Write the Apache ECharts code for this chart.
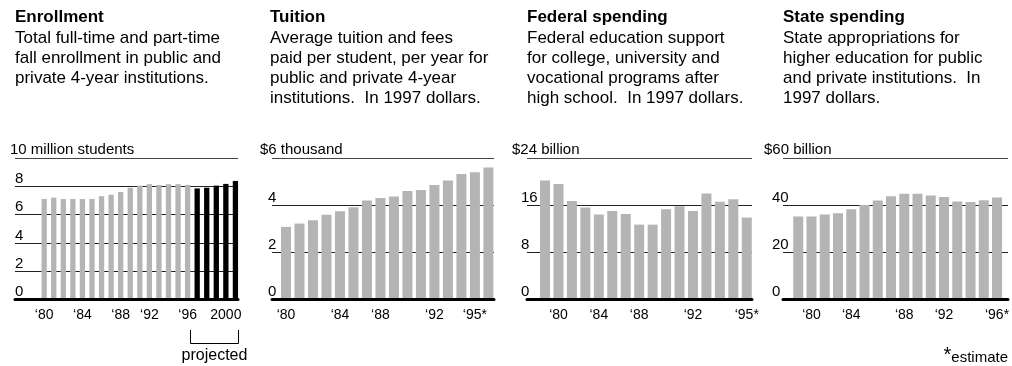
<!DOCTYPE html>
<html>
<head>
<meta charset="utf-8">
<script src="https://cdn.jsdelivr.net/npm/echarts@6/dist/echarts.min.js"></script>
<style>
html,body{margin:0;padding:0;background:#fff;}
#c{width:1012px;height:366px;}
</style>
</head>
<body>
<div id="c"></div>
<script>
// ---------------- DATA ----------------
const enrollYears = ['1980','1981','1982','1983','1984','1985','1986','1987','1988','1989','1990','1991','1992','1993','1994','1995','1996','1997','1998','1999','2000'];
const enrollActual = [7.1, 7.2, 7.1, 7.1, 7.1, 7.1, 7.3, 7.4, 7.6, 7.9, 8.05, 8.15, 8.1, 8.15, 8.15, 8.1];
const enrollProjected = [7.85, 7.9, 8.05, 8.17, 8.38];
const enrollTicks = ['\u201880','','','','\u201884','','','','\u201888','','','\u201892','','','','\u201896','','','','2000',''];

const tuitionYears = ['1980','1981','1982','1983','1984','1985','1986','1987','1988','1989','1990','1991','1992','1993','1994','1995'];
const tuitionValues = [3.08, 3.22, 3.36, 3.59, 3.74, 3.91, 4.20, 4.30, 4.37, 4.60, 4.64, 4.85, 5.05, 5.32, 5.40, 5.60];
const tuitionTicks = ['\u201880','','','','\u201884','','','\u201888','','','','\u201892','','','\u201895*',''];

const federalYears = ['1979','1980','1981','1982','1983','1984','1985','1986','1987','1988','1989','1990','1991','1992','1993','1995'];
const federalValues = [20.2, 19.6, 16.7, 15.6, 14.4, 15.0, 14.5, 12.7, 12.7, 15.3, 15.8, 15.0, 18.0, 16.6, 17.0, 13.9];
const federalTicks = ['','\u201880','','','\u201884','','','\u201888','','','','\u201892','','','','\u201895*'];

const stateYears = ['1979','1980','1981','1982','1983','1984','1985','1986','1987','1988','1989','1990','1991','1992','1993','1996'];
const stateValues = [35.2, 35.2, 36.0, 36.6, 38.3, 40.1, 42.0, 43.8, 44.8, 44.8, 44.1, 43.5, 41.6, 41.3, 42.1, 43.3];
const stateTicks = ['','\u201880','','','\u201884','','','','\u201888','','','\u201892','','','','\u201896*'];

const unitLabels = ['10 million students', '$6 thousand', '$24 billion', '$60 billion'];
const panelTitles = ['Enrollment', 'Tuition', 'Federal spending', 'State spending'];
const panelTexts = [
  'Total full-time and part-time\nfall enrollment in public and\nprivate 4-year institutions.',
  'Average tuition and fees\npaid per student, per year for\npublic and private 4-year\ninstitutions.  In 1997 dollars.',
  'Federal education support\nfor college, university and\nvocational programs after\nhigh school.  In 1997 dollars.',
  'State appropriations for\nhigher education for public\nand private institutions.  In\n1997 dollars.'
];

// ---------------- LAYOUT / STYLE ----------------
const FONT = '"Liberation Sans", Arial, Helvetica, sans-serif';
const GRAY = '#b4b4b4';
const TOP = 158, H = 141.5;

const panels = [
  { aLeft: 15,  aWidth: 223, bLeft: 39.4,  bWidth: 200.8, max: 10, interval: 2,  lm: 0,  cats: enrollYears,  ticks: enrollTicks,  barWidth: 5.3,
    series: [
      { data: enrollActual.concat(enrollProjected.map(() => null)), color: GRAY },
      { data: enrollActual.map(() => null).concat(enrollProjected), color: '#000' }
    ], textLeft: 15, unitLeft: 10 },
  { aLeft: 272, aWidth: 222, bLeft: 279.25, bWidth: 215.9, max: 6, interval: 2, lm: 4, cats: tuitionYears, ticks: tuitionTicks, barWidth: 10,
    series: [{ data: tuitionValues, color: GRAY }], textLeft: 270, unitLeft: 260 },
  { aLeft: 527, aWidth: 225, bLeft: 538.3, bWidth: 215.2, max: 24, interval: 8, lm: 6, cats: federalYears, ticks: federalTicks, barWidth: 10,
    series: [{ data: federalValues, color: GRAY }], textLeft: 527, unitLeft: 512 },
  { aLeft: 783, aWidth: 225, bLeft: 791.6, bWidth: 215.5, max: 60, interval: 20, lm: 11, cats: stateYears, ticks: stateTicks, barWidth: 10,
    series: [{ data: stateValues, color: GRAY }], textLeft: 783, unitLeft: 764 }
];

const option = {
  animation: false,
  textStyle: { fontFamily: FONT },
  grid: [], xAxis: [], yAxis: [], series: [], title: []
};

panels.forEach((p, i) => {
  const ga = option.grid.length;
  option.grid.push({ left: p.aLeft, width: p.aWidth, top: TOP, height: H });
  option.grid.push({ left: p.bLeft, width: p.bWidth, top: TOP, height: H });
  const n = Math.round(p.max / p.interval) + 1;
  const colors = [];
  for (let k = 0; k < n; k++) colors.push(k === n - 1 ? '#444' : '#222');

  option.xAxis.push({ gridIndex: ga, type: 'value', min: 0, max: 1, z: 10,
    axisLine: { show: true, lineStyle: { color: '#000', width: 3 } },
    axisTick: { show: false }, axisLabel: { show: false }, splitLine: { show: false } });
  option.yAxis.push({ gridIndex: ga, type: 'value', min: 0, max: p.max, interval: p.interval, z: 0,
    axisLine: { show: false }, axisTick: { show: false },
    splitLine: { show: true, lineStyle: { color: colors, width: 1 } },
    axisLabel: { align: 'left', verticalAlign: 'bottom', margin: p.lm, fontSize: 15, color: '#000', fontFamily: FONT,
      formatter: v => (v === p.max ? '' : String(v)) } });

  option.xAxis.push({ gridIndex: ga + 1, type: 'category', data: p.cats,
    axisLine: { show: false }, axisTick: { show: false }, splitLine: { show: false },
    axisLabel: { interval: 0, margin: 9, fontSize: 14, color: '#000', fontFamily: FONT,
      formatter: (v, idx) => p.ticks[idx] || '' } });
  option.yAxis.push({ gridIndex: ga + 1, type: 'value', min: 0, max: p.max, show: false,
    splitLine: { show: false } });

  p.series.forEach(s => {
    option.series.push({ type: 'bar', xAxisIndex: ga + 1, yAxisIndex: ga + 1, data: s.data,
      barWidth: p.barWidth, barGap: '-100%', itemStyle: { color: s.color }, z: 2 });
  });

  option.title.push({ left: p.textLeft, top: 7, padding: 0, itemGap: 1,
    text: panelTitles[i], subtext: panelTexts[i],
    textStyle: { fontSize: 17, fontWeight: 'bold', color: '#000', lineHeight: 20, fontFamily: FONT },
    subtextStyle: { fontSize: 17, color: '#000', lineHeight: 20, fontFamily: FONT } });
  option.title.push({ left: p.unitLeft, top: 142, padding: 0, text: unitLabels[i],
    textStyle: { fontSize: 15, fontWeight: 'normal', color: '#000', fontFamily: FONT } });
});

option.title.push({ right: 4, top: 345, padding: 0, text: '{a|*}{b|estimate}',
  textStyle: { fontWeight: 'normal', rich: {
    a: { fontSize: 20, fontWeight: 'normal', color: '#000', fontFamily: FONT, padding: [0, 0, 6, 0] },
    b: { fontSize: 15, fontWeight: 'normal', color: '#000', fontFamily: FONT } } } });

const chart = echarts.init(document.getElementById('c'), null, { renderer: 'canvas' });
chart.setOption(option);

// bracket under projected bars
const firstProj = enrollActual.length;
const lastProj = enrollYears.length - 1;
const pA = chart.convertToPixel({ gridIndex: 1 }, [firstProj, 0]);
const pB = chart.convertToPixel({ gridIndex: 1 }, [lastProj, 0]);
const bx1 = Math.round(pA[0] - 7) + 0.5;
const bx2 = Math.round(pB[0] + 3) + 0.5;
chart.setOption({
  graphic: [
    { type: 'line', shape: { x1: bx1, y1: 330, x2: bx1, y2: 343.5 }, style: { stroke: '#000', lineWidth: 1 } },
    { type: 'line', shape: { x1: bx2, y1: 330, x2: bx2, y2: 343.5 }, style: { stroke: '#000', lineWidth: 1 } },
    { type: 'line', shape: { x1: bx1, y1: 343.5, x2: bx2, y2: 343.5 }, style: { stroke: '#000', lineWidth: 1 } },
    { type: 'text', x: (bx1 + bx2) / 2, y: 356, style: { text: 'projected', fontSize: 16, fontFamily: FONT, fill: '#000', align: 'center', verticalAlign: 'middle' } }
  ]
});
</script>
</body>
</html>
